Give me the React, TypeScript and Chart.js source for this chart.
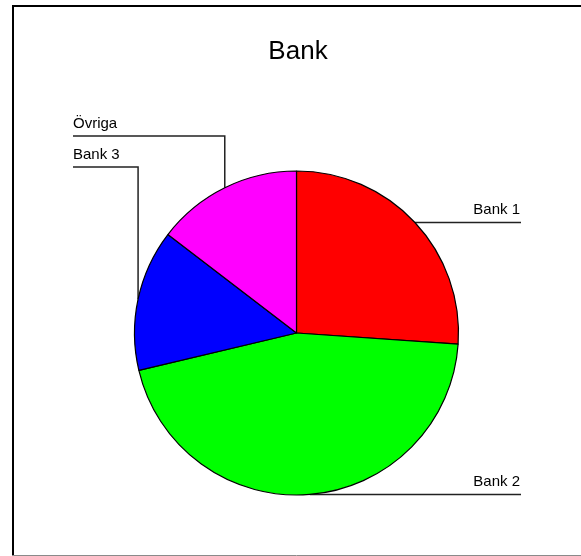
import React, { useEffect, useRef } from "react";
import { Chart, registerables } from "chart.js";

Chart.register(...registerables);

// ---- data ----
const titleText = "Bank";
const categories = ["Bank 1", "Bank 2", "Bank 3", "Övriga"];
const shares = [26.1, 45.2, 14.1, 14.6];
const sliceColors = ["#FF0000", "#00FF00", "#0000FF", "#FF00FF"];

// ---- layout constants ----
const W = 581;
const H = 556;
const FONT = "'Liberation Sans', Arial, sans-serif";
const RIGHT_LABEL_END = 521;
const LEFT_LABEL_START = 73;
const LEFT_ELBOW_Y: Record<string, number> = { "Bank 3": 167, "Övriga": 136 };

const framePlugin = {
  id: "frameAndLabels",
  beforeDraw(chart: any) {
    const ctx = chart.ctx;
    ctx.save();
    ctx.fillStyle = "#ffffff";
    ctx.fillRect(0, 0, W, H);
    // frame
    ctx.strokeStyle = "#000";
    ctx.lineWidth = 2;
    ctx.beginPath();
    ctx.moveTo(13, H);
    ctx.lineTo(13, 6);
    ctx.lineTo(W + 2, 6);
    ctx.stroke();
    ctx.strokeStyle = "#8a8a8a";
    ctx.lineWidth = 1;
    ctx.beginPath();
    ctx.moveTo(12, 555.5);
    ctx.lineTo(W, 555.5);
    ctx.stroke();
    // title
    ctx.fillStyle = "#000";
    ctx.font = `26px ${FONT}`;
    ctx.textAlign = "center";
    ctx.textBaseline = "alphabetic";
    ctx.fillText(titleText, 298, 59);
    ctx.restore();
  },
  beforeDatasetsDraw(chart: any) {
    const ctx = chart.ctx;
    const meta = chart.getDatasetMeta(0);
    ctx.save();
    ctx.strokeStyle = "#222";
    ctx.lineWidth = 1.5;
    ctx.fillStyle = "#000";
    ctx.font = `15px ${FONT}`;
    ctx.textBaseline = "alphabetic";
    meta.data.forEach((arc: any, i: number) => {
      const p = arc.getProps(["startAngle", "endAngle", "x", "y", "outerRadius"], true);
      const a = (p.startAngle + p.endAngle) / 2;
      const px = p.x + p.outerRadius * Math.cos(a);
      const py = p.y + p.outerRadius * Math.sin(a);
      const label = categories[i];
      if (Math.cos(a) >= 0) {
        ctx.beginPath();
        ctx.moveTo(px, py);
        ctx.lineTo(RIGHT_LABEL_END, py);
        ctx.stroke();
        ctx.textAlign = "right";
        ctx.fillText(label, RIGHT_LABEL_END - 1, py - 8);
      } else {
        const ey = LEFT_ELBOW_Y[label] ?? py;
        ctx.beginPath();
        ctx.moveTo(px, py);
        ctx.lineTo(px, ey);
        ctx.lineTo(LEFT_LABEL_START, ey);
        ctx.stroke();
        ctx.textAlign = "left";
        ctx.fillText(label, LEFT_LABEL_START, ey - 8);
      }
    });
    ctx.restore();
  },
};

export default function App() {
  const ref = useRef<HTMLCanvasElement | null>(null);
  useEffect(() => {
    document.body.style.margin = "0";
    const canvas = ref.current!;
    const chart = new Chart(canvas, {
      type: "pie",
      data: {
        labels: categories,
        datasets: [
          {
            data: shares,
            backgroundColor: sliceColors,
            borderColor: "#000",
            borderWidth: 1.2,
          },
        ],
      },
      options: {
        responsive: false,
        animation: false,
        devicePixelRatio: 1,
        radius: 162,
        layout: { padding: { left: 22, right: 10, top: 150, bottom: 40 } },
        plugins: {
          legend: { display: false },
          tooltip: { enabled: false },
          title: { display: false },
        },
      } as any,
      plugins: [framePlugin],
    });
    return () => chart.destroy();
  }, []);
  return (
    <div style={{ position: "absolute", left: 0, top: 0, width: W, height: H }}>
      <canvas ref={ref} width={W} height={H} style={{ width: W, height: H, display: "block" }} />
    </div>
  );
}
